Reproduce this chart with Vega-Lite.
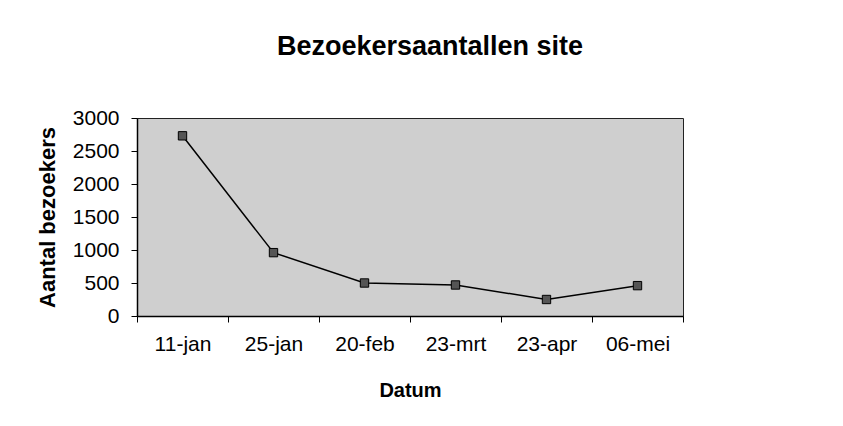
{
  "$schema": "https://vega.github.io/schema/vega-lite/v6.json",
  "width": 546,
  "height": 198,
  "autosize": {"type": "none"},
  "padding": {"left": 137, "top": 118, "right": 160, "bottom": 110},
  "background": "white",
  "config": {
    "font": "Liberation Sans",
    "view": {"fill": "#cfcfcf", "stroke": "#222", "strokeWidth": 1}
  },
  "title": {
    "text": "Bezoekersaantallen site",
    "fontSize": 27,
    "fontWeight": "bold",
    "color": "black",
    "anchor": "middle",
    "offset": 46,
    "dx": 20
  },
  "data": {
    "values": [
      {"datum": "11-jan", "bezoekers": 2730},
      {"datum": "25-jan", "bezoekers": 960},
      {"datum": "20-feb", "bezoekers": 500},
      {"datum": "23-mrt", "bezoekers": 470},
      {"datum": "23-apr", "bezoekers": 250},
      {"datum": "06-mei", "bezoekers": 460}
    ]
  },
  "encoding": {
    "x": {
      "field": "datum",
      "type": "ordinal",
      "sort": null,
      "scale": {"paddingInner": 0, "paddingOuter": 0},
      "axis": {
        "title": "Datum",
        "titleFontSize": 20,
        "titleFontWeight": "bold",
        "titleColor": "black",
        "titlePadding": 26,
        "labelAngle": 0,
        "labelFontSize": 21,
        "labelColor": "black",
        "labelPadding": 11,
        "tickBand": "extent",
        "tickSize": 6,
        "tickColor": "black",
        "domainColor": "black",
        "domainWidth": 1.5
      }
    },
    "y": {
      "field": "bezoekers",
      "type": "quantitative",
      "scale": {"domain": [0, 3000], "nice": false},
      "axis": {
        "title": "Aantal bezoekers",
        "titleFontSize": 22,
        "titleFontWeight": "bold",
        "titleColor": "black",
        "titleX": -90,
        "titleBaseline": "middle",
        "values": [0, 500, 1000, 1500, 2000, 2500, 3000],
        "format": "d",
        "labelFontSize": 21,
        "labelColor": "black",
        "labelPadding": 12,
        "tickSize": 6,
        "tickColor": "black",
        "domainColor": "black",
        "domainWidth": 1.5,
        "grid": false
      }
    }
  },
  "layer": [
    {"mark": {"type": "line", "color": "black", "strokeWidth": 1.5}},
    {"mark": {"type": "point", "shape": "square", "filled": true, "size": 70, "color": "#555555", "stroke": "black", "strokeWidth": 1, "opacity": 1}}
  ]
}
